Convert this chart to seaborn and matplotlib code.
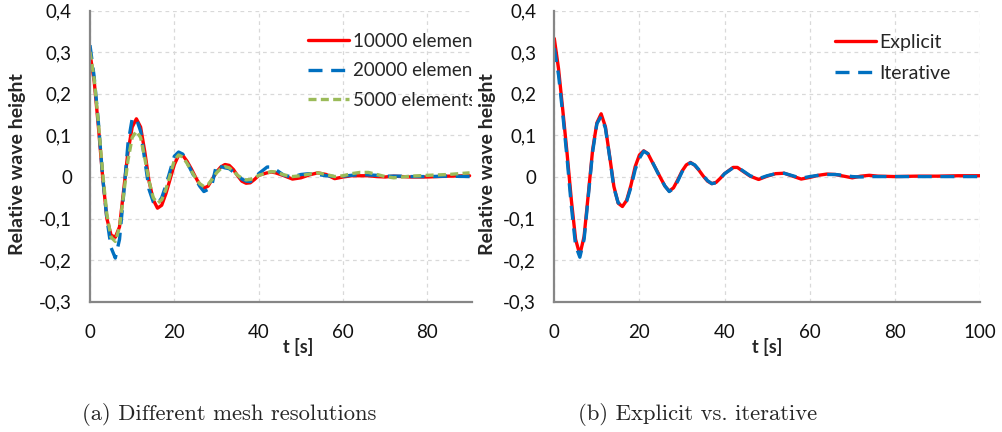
import matplotlib
matplotlib.use("Agg")
import matplotlib.pyplot as plt
import seaborn as sns

sns.set_style("white")
plt.rcParams['font.family'] = ['Lato', 'DejaVu Sans']

# ---------------- data ----------------
t = [0, 1, 2, 3, 4, 5, 6, 7, 8, 9, 10, 11, 12, 13, 14, 15, 16, 17, 18, 19,
     20, 21, 22, 23, 24, 25, 26, 27, 28, 29, 30, 31, 32, 33, 34, 35, 36, 37,
     38, 39, 40, 42, 43, 44, 46, 48, 50, 52, 54, 56, 58, 60, 62, 64, 66, 68,
     70, 72, 74, 76, 80, 85, 90, 95, 100]

# panel (a): different mesh resolutions (t <= 90)
mesh_10000 = [0.297, 0.23, 0.12, 0.0, -0.10, -0.14, -0.145, -0.12, -0.03, 0.06,
              0.12, 0.14, 0.12, 0.06, -0.01, -0.055, -0.075, -0.068, -0.04, -0.005,
              0.03, 0.052, 0.052, 0.038, 0.02, 0.0, -0.018, -0.027, -0.022, -0.005,
              0.012, 0.024, 0.03, 0.028, 0.018, 0.003, -0.01, -0.015, -0.014, -0.006,
              0.004, 0.01, 0.012, 0.01, 0.003, -0.005, -0.002, 0.005, 0.01, 0.006,
              -0.004, 0.0, 0.003, 0.003, 0.003, 0.001, 0.0, 0.002, 0.001, 0.0,
              0.0, 0.002, 0.003]
mesh_20000 = [0.317, 0.24, 0.13, 0.0, -0.10, -0.17, -0.195, -0.15, -0.04, 0.08,
              0.14, 0.14, 0.11, 0.04, -0.03, -0.06, -0.065, -0.05, -0.02, 0.015,
              0.05, 0.06, 0.055, 0.035, 0.015, -0.005, -0.022, -0.035, -0.03, -0.015,
              0.03, 0.025, 0.022, 0.02, 0.012, 0.004, -0.005, -0.01, -0.011, -0.005,
              0.008, 0.024, 0.024, 0.018, 0.004, 0.0, 0.006, 0.008, 0.006, 0.003,
              0.001, 0.002, 0.004, 0.006, 0.005, 0.004, 0.002, 0.002, 0.002, 0.001,
              0.001, 0.002, 0.001]
mesh_5000 = [0.301, 0.235, 0.13, 0.01, -0.09, -0.145, -0.155, -0.12, -0.04, 0.04,
             0.095, 0.11, 0.095, 0.045, -0.01, -0.05, -0.063, -0.055, -0.03, 0.005,
             0.04, 0.053, 0.048, 0.033, 0.015, -0.002, -0.016, -0.023, -0.018, -0.005,
             0.01, 0.02, 0.025, 0.022, 0.014, 0.004, -0.003, -0.007, -0.006, -0.002,
             0.004, 0.01, 0.013, 0.012, 0.005, 0.001, 0.003, 0.007, 0.01, 0.006,
             0.001, 0.003, 0.008, 0.011, 0.011, 0.006, 0.001, -0.002, 0.0, 0.002,
             0.004, 0.006, 0.01]

# panel (b): explicit vs iterative
explicit = [0.333, 0.26, 0.16, 0.057, -0.055, -0.15, -0.187, -0.143, -0.04, 0.065,
            0.13, 0.152, 0.121, 0.05, -0.023, -0.063, -0.071, -0.056, -0.02, 0.025,
            0.053, 0.063, 0.056, 0.036, 0.017, -0.003, -0.022, -0.034, -0.026, -0.007,
            0.014, 0.029, 0.035, 0.028, 0.016, 0.002, -0.01, -0.016, -0.013, -0.003,
            0.008, 0.023, 0.023, 0.016, 0.002, -0.006, 0.002, 0.008, 0.009, 0.002,
            -0.005, -0.001, 0.004, 0.007, 0.006, 0.002, -0.002, 0.002, 0.004, 0.002,
            0.001, 0.002, 0.002, 0.003, 0.003]
iterative = [0.31, 0.245, 0.15, 0.045, -0.07, -0.165, -0.193, -0.15, -0.045, 0.06,
             0.128, 0.146, 0.118, 0.048, -0.026, -0.062, -0.068, -0.058, -0.025, 0.018,
             0.045, 0.062, 0.056, 0.037, 0.016, -0.004, -0.022, -0.035, -0.028, -0.01,
             0.012, 0.028, 0.034, 0.029, 0.017, 0.003, -0.009, -0.016, -0.014, -0.004,
             0.008, 0.022, 0.023, 0.017, 0.003, -0.004, 0.003, 0.008, 0.009, 0.003,
             -0.003, 0.001, 0.004, 0.006, 0.006, 0.004, 0.001, 0.0, 0.001, 0.001,
             0.001, 0.001, 0.001, 0.001, 0.001]

y_ticks = [-0.3, -0.2, -0.1, 0.0, 0.1, 0.2, 0.3, 0.4]
y_tick_labels = ['-0,3', '-0,2', '-0,1', '0', '0,1', '0,2', '0,3', '0,4']
x_ticks_a = [0, 20, 40, 60, 80]
x_ticks_b = [0, 20, 40, 60, 80, 100]

labels_a = ['10000 elements', '20000 elements', '5000 elements']
labels_b = ['Explicit', 'Iterative']
caption_a = '(a) Different mesh resolutions'
caption_b = '(b) Explicit vs. iterative'

# ---------------- styling ----------------
RED = '#FF0000'
BLUE = '#0070C0'
GREEN = '#9BBB59'
AXC = '#868686'
W, H = 1002, 432

fig = plt.figure(figsize=(W / 100, H / 100), dpi=100)
top_px, bot_px = 10.7, 301.7
ax_a = fig.add_axes([90 / W, 1 - bot_px / H, (471.7 - 90) / W, (bot_px - top_px) / H])
ax_b = fig.add_axes([554.3 / W, 1 - bot_px / H, (980 - 554.3) / W, (bot_px - top_px) / H])

n_a = len([v for v in t if v <= 90])
t_a = t[:n_a]

lw = 2.4
sns.lineplot(x=t_a, y=mesh_10000, ax=ax_a, color=RED, lw=lw, label=labels_a[0])
sns.lineplot(x=t_a, y=mesh_20000, ax=ax_a, color=BLUE, lw=lw,
             linestyle=(0, (4.2, 2.6)), label=labels_a[1])
sns.lineplot(x=t_a, y=mesh_5000, ax=ax_a, color=GREEN, lw=lw,
             linestyle=(0, (2.4, 1.3)), label=labels_a[2])

sns.lineplot(x=t, y=explicit, ax=ax_b, color=RED, lw=lw, label=labels_b[0])
sns.lineplot(x=t, y=iterative, ax=ax_b, color=BLUE, lw=lw,
             linestyle=(0, (4.2, 2.6)), label=labels_b[1])

for ax, xt, xl in ((ax_a, x_ticks_a, (0, 90.5)), (ax_b, x_ticks_b, (0, 100))):
    ax.set_xlim(*xl)
    ax.set_ylim(-0.3, 0.4)
    ax.set_xticks(xt)
    ax.set_xticklabels([str(v) for v in xt])
    ax.set_yticks(y_ticks)
    ax.set_yticklabels(y_tick_labels)
    for s in ('top', 'right'):
        ax.spines[s].set_visible(False)
    for s in ('left', 'bottom'):
        ax.spines[s].set_color(AXC)
        ax.spines[s].set_linewidth(1.6)
    ax.grid(True, color='#D9D9D9', linestyle=(0, (3, 3)), linewidth=0.9)
    ax.set_axisbelow(True)
    ax.tick_params(axis='both', direction='out', length=5, width=1.2, color=AXC,
                   labelsize=13.5, labelcolor='#111111')
    ax.tick_params(axis='y', pad=8)
    ax.tick_params(axis='x', pad=11)
    ax.set_xlabel('t [s]', fontsize=13, fontweight='bold')
    ax.set_ylabel('Relative wave height', fontsize=14, fontweight='bold')
    ax.xaxis.label.set_va('center')
    ax.yaxis.label.set_va('center')

ax_a.xaxis.set_label_coords((298 - 90) / 381.7, (bot_px - 346.5) / 291)
ax_b.xaxis.set_label_coords((766.7 - 554.3) / 425.7, (bot_px - 346.5) / 291)
ax_a.yaxis.set_label_coords((18 - 90) / 381.7, (bot_px - 164) / 291)
ax_b.yaxis.set_label_coords((487 - 554.3) / 425.7, (bot_px - 164) / 291)

# legends
leg_a = ax_a.legend(loc='upper left', bbox_to_anchor=(308 / W, 1 - 33 / H),
                    bbox_transform=fig.transFigure, frameon=False, fontsize=13.5,
                    borderpad=0, borderaxespad=0, handlelength=2.2,
                    handletextpad=0.2, labelspacing=0.66)
for txt in leg_a.get_texts():
    txt.set_clip_box(ax_a.bbox)
    txt.set_clip_on(True)

leg_b = ax_b.legend(loc='upper left', bbox_to_anchor=(835 / W, 1 - 34 / H),
                    bbox_transform=fig.transFigure, frameon=False, fontsize=14,
                    borderpad=0, borderaxespad=0, handlelength=2.1,
                    handletextpad=0.2, labelspacing=0.73)

# captions
fig.text(229 / W, 1 - 414 / H, caption_a, family=['cmr10', 'DejaVu Serif'],
         fontsize=16.3, ha='center', va='center')
fig.text(697.5 / W, 1 - 414 / H, caption_b, family=['cmr10', 'DejaVu Serif'],
         fontsize=16.3, ha='center', va='center')

fig.savefig('out.png', dpi=100)
